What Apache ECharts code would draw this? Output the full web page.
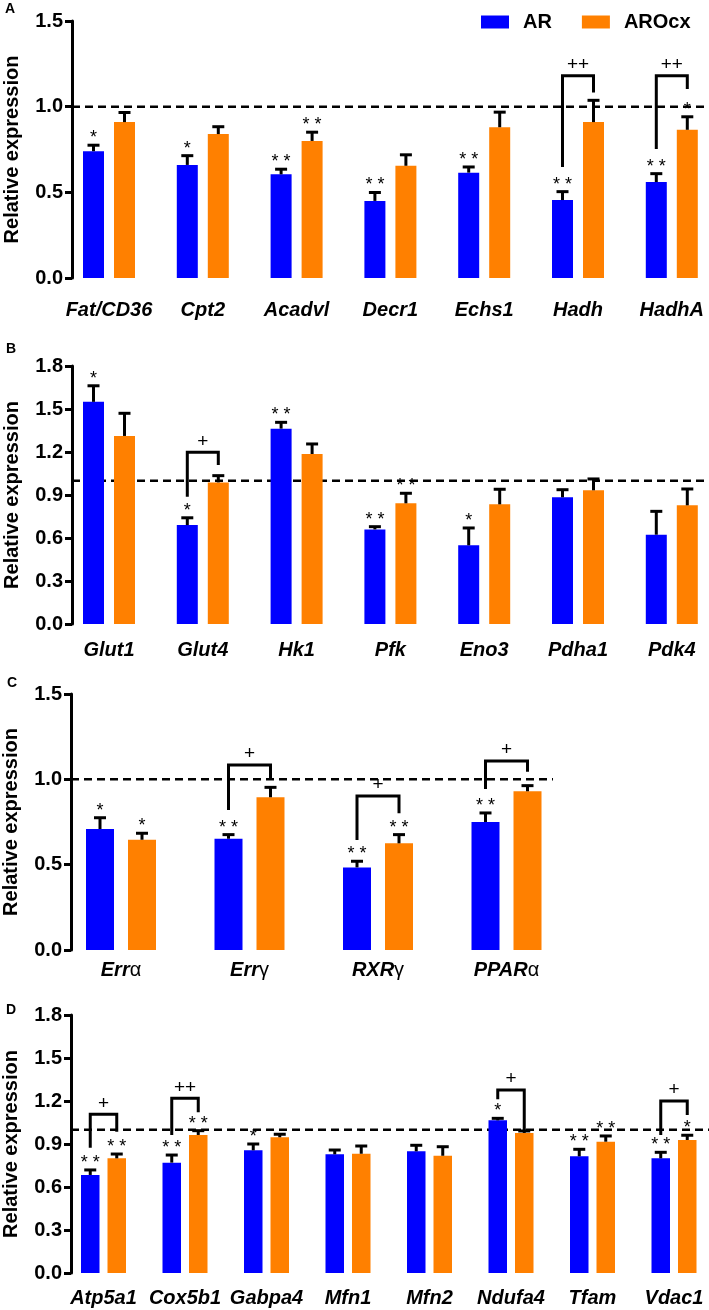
<!DOCTYPE html>
<html><head><meta charset="utf-8">
<script src="https://cdn.jsdelivr.net/npm/echarts@6/dist/echarts.min.js"></script>
<style>html,body{margin:0;padding:0;background:#fff}#c{width:709px;height:1310px}</style>
</head><body><div id="c"></div>
<script>
// ---------------- DATA ----------------
const groupNames = ['AR', 'AROcx'];
const refLevel = 1.0;

// Panel A
const catsA = ['Fat/CD36', 'Cpt2', 'Acadvl', 'Decr1', 'Echs1', 'Hadh', 'HadhA'];
const arA = [0.74, 0.66, 0.605, 0.45, 0.615, 0.455, 0.56];
const arSemA = [0.035, 0.054, 0.03, 0.049, 0.033, 0.049, 0.049];
const aroA = [0.91, 0.84, 0.80, 0.655, 0.88, 0.91, 0.865];
const aroSemA = [0.056, 0.043, 0.051, 0.064, 0.088, 0.127, 0.076];
const sigArA = ['*', '*', '**', '**', '**', '**', '**'];
const sigAroA = ['', '', '**', '', '', '', '*'];
const bracketsA = [
  { cat: 5, label: '++', top: 1.18, left: 0.648, right: 1.082 },
  { cat: 6, label: '++', top: 1.18, left: 0.753, right: 1.103 }
];

// Panel B
const catsB = ['Glut1', 'Glut4', 'Hk1', 'Pfk', 'Eno3', 'Pdha1', 'Pdk4'];
const arB = [1.55, 0.69, 1.363, 0.66, 0.549, 0.884, 0.623];
const arSemB = [0.112, 0.051, 0.044, 0.019, 0.121, 0.053, 0.163];
const aroB = [1.312, 0.988, 1.186, 0.842, 0.835, 0.933, 0.828];
const aroSemB = [0.158, 0.047, 0.07, 0.07, 0.105, 0.079, 0.114];
const sigArB = ['*', '*', '**', '**', '*', '', ''];
const sigAroB = ['', '', '', '**', '', '', ''];
const bracketsB = [
  { cat: 1, label: '+', top: 1.198, left: 0.888, right: 1.109 }
];

// Panel C
const catsC = ['Errα', 'Errγ', 'RXRγ', 'PPARα'];
const arC = [0.709, 0.652, 0.484, 0.75];
const arSemC = [0.066, 0.024, 0.036, 0.053];
const aroC = [0.646, 0.895, 0.625, 0.93];
const aroSemC = [0.038, 0.058, 0.051, 0.033];
const sigArC = ['*', '**', '**', '**'];
const sigAroC = ['*', '', '**', ''];
const bracketsC = [
  { cat: 1, label: '+', top: 1.084, left: 0.82, right: 1.006 },
  { cat: 2, label: '+', top: 0.902, left: 0.645, right: 0.801 },
  { cat: 3, label: '+', top: 1.107, left: 0.943, right: 1.045 }
];

// Panel D
const catsD = ['Atp5a1', 'Cox5b1', 'Gabpa4', 'Mfn1', 'Mfn2', 'Ndufa4', 'Tfam', 'Vdac1'];
const arD = [0.684, 0.77, 0.856, 0.828, 0.849, 1.065, 0.814, 0.80];
const arSemD = [0.035, 0.053, 0.044, 0.03, 0.042, 0.014, 0.049, 0.042];
const aroD = [0.80, 0.963, 0.947, 0.832, 0.818, 0.977, 0.916, 0.928];
const aroSemD = [0.03, 0.03, 0.021, 0.054, 0.063, 0.014, 0.04, 0.033];
const sigArD = ['**', '**', '*', '', '', '*', '**', '**'];
const sigAroD = ['**', '**', '', '', '', '', '**', '*'];
const bracketsD = [
  { cat: 0, label: '+', top: 1.107, left: 0.874, right: 0.986 },
  { cat: 1, label: '++', top: 1.219, left: 0.963, right: 1.121 },
  { cat: 5, label: '+', top: 1.277, left: 1.212, right: 0.993 },
  { cat: 7, label: '+', top: 1.20, left: 0.963, right: 1.102 }
];

// ---------------- STYLE / LAYOUT ----------------
const FONT = '"Liberation Sans", Arial, Helvetica, sans-serif';
const BLUE = '#0000ff', ORANGE = '#ff8000';

const panels = [
  { letter: 'A', cats: catsA, ar: arA, arSem: arSemA, aro: aroA, aroSem: aroSemA, sigAr: sigArA, sigAro: sigAroA, brackets: bracketsA, yMax: 1.5, yStep: 0.5,
    lay: { top: 21, height: 257, left: 62.1, width: 656.6, axisX: 72, barW: 21, gap: 10, labelMargin: 22, refEnd: 709, letterX: 5, letterY: 2 } },
  { letter: 'B', cats: catsB, ar: arB, arSem: arSemB, aro: aroB, aroSem: aroSemB, sigAr: sigArB, sigAro: sigAroB, brackets: bracketsB, yMax: 1.8, yStep: 0.3,
    lay: { top: 366, height: 258, left: 62.1, width: 656.6, axisX: 72, barW: 21, gap: 10, labelMargin: 16, refEnd: 709, letterX: 6, letterY: 342 } },
  { letter: 'C', cats: catsC, ar: arC, arSem: arSemC, aro: aroC, aroSem: aroSemC, sigAr: sigArC, sigAro: sigAroC, brackets: bracketsC, yMax: 1.5, yStep: 0.5,
    lay: { top: 694, height: 256, left: 56.75, width: 514, axisX: 71, barW: 28, gap: 14, labelMargin: 10, refEnd: 553, letterX: 7, letterY: 676 } },
  { letter: 'D', cats: catsD, ar: arD, arSem: arSemD, aro: aroD, aroSem: aroSemD, sigAr: sigArD, sigAro: sigAroD, brackets: bracketsD, yMax: 1.8, yStep: 0.3,
    lay: { top: 1015, height: 258, left: 62.75, width: 652, axisX: 71, barW: 18.5, gap: 8, labelMargin: 15, refEnd: 709, letterX: 6, letterY: 1003 } }
];

function errorRenderer(p) {
  const off = (p.lay.barW + p.lay.gap) / 2;
  return function (params, api) {
    const i = api.value(0);
    const children = [];
    const sets = [
      [api.value(1), api.value(2), -off, p.sigAr[i]],
      [api.value(3), api.value(4), off, p.sigAro[i]]
    ];
    sets.forEach(function (s) {
      const base = api.coord([i, s[0]]);
      const tip = api.coord([i, s[0] + s[1]]);
      const x = base[0] + s[2];
      children.push({ type: 'line', shape: { x1: x, y1: base[1], x2: x, y2: tip[1] }, style: { stroke: '#000', lineWidth: 3 } });
      children.push({ type: 'line', shape: { x1: x - 6, y1: tip[1], x2: x + 6, y2: tip[1] }, style: { stroke: '#000', lineWidth: 3 } });
      if (s[3]) {
        children.push({ type: 'text', x: x, y: tip[1] - 7,
          style: { text: s[3].split('').join(' '), align: 'center', verticalAlign: 'middle', fontSize: 18, fontFamily: FONT, fill: '#000' } });
      }
    });
    return { type: 'group', children: children };
  };
}

function bracketRenderer(p) {
  const off = (p.lay.barW + p.lay.gap) / 2;
  return function (params, api) {
    const i = api.value(0);
    const t = api.coord([i, api.value(1)]);
    const yl = api.coord([i, api.value(2)])[1];
    const yr = api.coord([i, api.value(3)])[1];
    const xl = t[0] - off, xr = t[0] + off;
    return { type: 'group', children: [
      { type: 'polyline', shape: { points: [[xl, yl], [xl, t[1]], [xr, t[1]], [xr, yr]] }, style: { stroke: '#000', lineWidth: 3, fill: null } },
      { type: 'text', x: (xl + xr) / 2, y: t[1] - 11,
        style: { text: p.brackets[params.dataIndex].label, align: 'center', verticalAlign: 'middle', fontSize: 19, fontFamily: FONT, fill: '#000' } }
    ] };
  };
}

function refRenderer(p) {
  return function (params, api) {
    const y = api.coord([0, api.value(1)])[1];
    return { type: 'line', shape: { x1: p.lay.axisX, y1: y, x2: p.lay.refEnd, y2: y },
      style: { stroke: '#000', lineWidth: 2.5, lineDash: [8, 5] } };
  };
}

const grid = [], xAxis = [], yAxis = [], series = [], title = [];
panels.forEach(function (p, k) {
  const L = p.lay;
  grid.push({ left: L.left, top: L.top, width: L.width, height: L.height, containLabel: false, outerBoundsMode: 'none' });
  title.push({ text: p.letter, left: L.letterX, top: L.letterY, padding: 0,
    textStyle: { fontSize: 14, fontWeight: 'bold', color: '#000', fontFamily: FONT } });
  xAxis.push({
    type: 'category', gridIndex: k, data: p.cats,
    axisLine: { show: false }, axisTick: { show: false }, splitLine: { show: false },
    axisLabel: {
      interval: 0, margin: L.labelMargin, color: '#000', fontSize: 20, fontWeight: 'bold', fontStyle: 'italic', fontFamily: FONT,
      formatter: function (v) {
        const m = v.match(/^(.*?)([α-ω]+)$/);
        return m ? '{b|' + m[1] + '}{g|' + m[2] + '}' : '{b|' + v + '}';
      },
      rich: {
        b: { fontSize: 20, fontWeight: 'bold', fontStyle: 'italic', fontFamily: FONT, color: '#000' },
        g: { fontSize: 20, fontWeight: 'normal', fontStyle: 'normal', fontFamily: FONT, color: '#000' }
      }
    }
  });
  yAxis.push({
    type: 'value', gridIndex: k, min: 0, max: p.yMax, interval: p.yStep,
    offset: -(L.axisX - L.left),
    name: 'Relative expression', nameLocation: 'middle', nameGap: 50,
    nameTextStyle: { fontSize: 20, fontWeight: 'bold', color: '#000', fontFamily: FONT },
    axisLine: { show: true, lineStyle: { color: '#000', width: 3 } },
    axisTick: { show: true, length: 7, lineStyle: { color: '#000', width: 3 } },
    splitLine: { show: false },
    axisLabel: { margin: 9, color: '#000', fontSize: 20, fontWeight: 'bold', fontFamily: FONT,
      formatter: function (v) { return v.toFixed(1); } }
  });
  series.push({
    type: 'custom', name: 'ref' + k, xAxisIndex: k, yAxisIndex: k, z: 1,
    renderItem: refRenderer(p), data: [[0, refLevel]], silent: true
  });
  series.push({
    type: 'bar', name: groupNames[0], xAxisIndex: k, yAxisIndex: k, z: 2,
    barWidth: L.barW, barGap: (L.gap / L.barW * 100) + '%',
    itemStyle: { color: BLUE }, data: p.ar
  });
  series.push({
    type: 'bar', name: groupNames[1], xAxisIndex: k, yAxisIndex: k, z: 2,
    barWidth: L.barW, barGap: (L.gap / L.barW * 100) + '%',
    itemStyle: { color: ORANGE }, data: p.aro
  });
  series.push({
    type: 'custom', name: 'err' + k, xAxisIndex: k, yAxisIndex: k, z: 3,
    renderItem: errorRenderer(p),
    data: p.cats.map(function (c, i) { return [i, p.ar[i], p.arSem[i], p.aro[i], p.aroSem[i]]; }),
    encode: { x: 0, y: [1, 3] }, silent: true
  });
  series.push({
    type: 'custom', name: 'br' + k, xAxisIndex: k, yAxisIndex: k, z: 3,
    renderItem: bracketRenderer(p),
    data: p.brackets.map(function (b) { return [b.cat, b.top, b.left, b.right]; }),
    encode: { x: 0, y: [1, 2, 3] }, silent: true
  });
});

const chart = echarts.init(document.getElementById('c'), null, { renderer: 'canvas' });
chart.setOption({
  animation: false,
  backgroundColor: '#fff',
  title: title,
  legend: {
    data: groupNames, left: 476, top: 7, icon: 'rect', itemWidth: 28, itemHeight: 13, itemGap: 30,
    textStyle: { fontSize: 20, fontWeight: 'bold', color: '#000', fontFamily: FONT, padding: [0, 0, 0, 9] },
    selectedMode: false
  },
  grid: grid, xAxis: xAxis, yAxis: yAxis, series: series
});
</script>
</body></html>
